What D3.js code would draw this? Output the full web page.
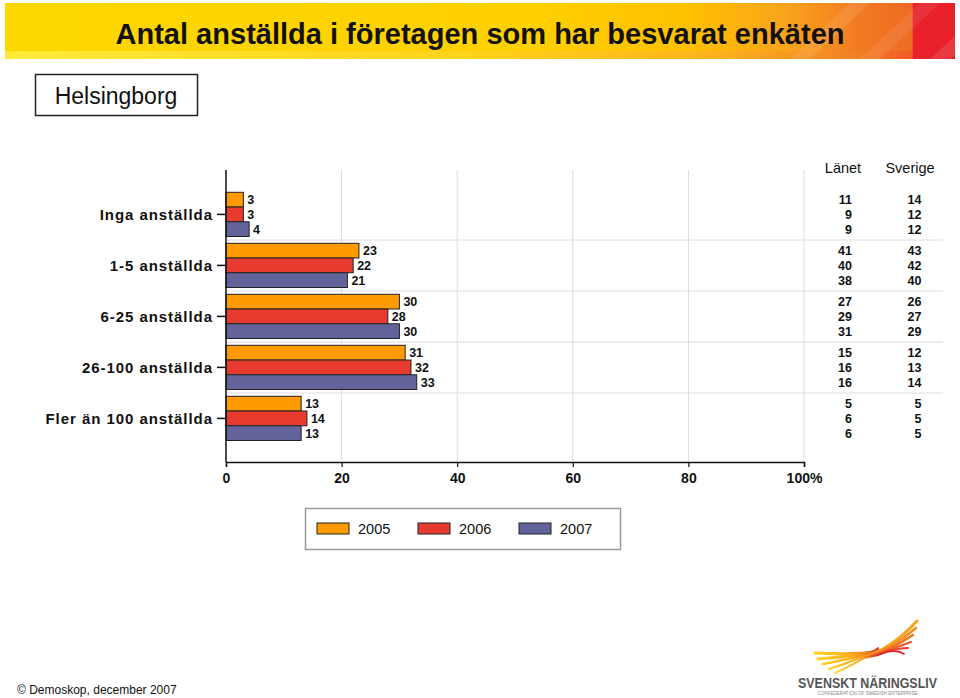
<!DOCTYPE html>
<html>
<head>
<meta charset="utf-8">
<script src="https://cdn.jsdelivr.net/npm/d3@7"></script>
<style>
  html, body { margin: 0; padding: 0; background: #fff; }
  svg { display: block; }
  text { font-family: "Liberation Sans", Arial, Helvetica, sans-serif; }
</style>
</head>
<body>
<svg id="chart" width="960" height="698"></svg>
<script>
// ---------- DATA ----------
const categories = ["Inga anställda", "1-5 anställda", "6-25 anställda", "26-100 anställda", "Fler än 100 anställda"];
const years = ["2005", "2006", "2007"];
// Helsingborg (bars), percent
const helsingborg2005 = [3, 23, 30, 31, 13];
const helsingborg2006 = [3, 22, 28, 32, 14];
const helsingborg2007 = [4, 21, 30, 33, 13];
// Länet (table column)
const lanet2005 = [11, 41, 27, 15, 5];
const lanet2006 = [9, 40, 29, 16, 6];
const lanet2007 = [9, 38, 31, 16, 6];
// Sverige (table column)
const sverige2005 = [14, 43, 26, 12, 5];
const sverige2006 = [12, 42, 27, 13, 5];
const sverige2007 = [12, 40, 29, 14, 5];
const xTicks = [0, 20, 40, 60, 80, 100];
const titleText = "Antal anställda i företagen som har besvarat enkäten";
const regionText = "Helsingborg";
const tableHeaders = ["Länet", "Sverige"];
const footerText = "© Demoskop, december 2007";

const barSeries = { "2005": helsingborg2005, "2006": helsingborg2006, "2007": helsingborg2007 };
const lanetSeries = { "2005": lanet2005, "2006": lanet2006, "2007": lanet2007 };
const sverigeSeries = { "2005": sverige2005, "2006": sverige2006, "2007": sverige2007 };
const colors = { "2005": "#FF9A00", "2006": "#E83B2F", "2007": "#63639B" };

// ---------- SETUP ----------
const svg = d3.select("#chart");
const defs = svg.append("defs");

// Title band
const g1 = defs.append("linearGradient").attr("id", "band").attr("x1", "0").attr("x2", "1").attr("y1", "0").attr("y2", "0");
[[0, "#FFD800"], [0.55, "#FFD000"], [0.72, "#FFC000"], [0.82, "#F9A51C"], [0.9, "#F27A22"], [0.955, "#EE6A24"], [0.956, "#E8212B"], [1, "#E8212B"]]
  .forEach(([o, c]) => g1.append("stop").attr("offset", o).attr("stop-color", c));
const g2 = defs.append("linearGradient").attr("id", "bandLow").attr("x1", "0").attr("x2", "1").attr("y1", "0").attr("y2", "0");
[[0, "#FFEA3A"], [0.5, "#FFD21A"], [0.75, "#FBB21E"], [0.9, "#F47F24"], [0.955, "#EF5A26"], [0.956, "#E8212B"], [1, "#E8212B"]]
  .forEach(([o, c]) => g2.append("stop").attr("offset", o).attr("stop-color", c));

svg.append("rect").attr("x", 5).attr("y", 3).attr("width", 950).attr("height", 49).attr("fill", "url(#band)");
svg.append("rect").attr("x", 5).attr("y", 51).attr("width", 950).attr("height", 8).attr("fill", "url(#bandLow)");
// subtle diagonal streaks in orange region
[[1050, 0.10], [1120, 0.08], [1190, 0.10], [1260, 0.08]].forEach(([x0, op]) => {
  svg.append("path")
    .attr("d", `M${x0 - 260},59 L${x0 - 200},3 L${x0 - 180},3 L${x0 - 240},59 Z`)
    .attr("fill", "#fff").attr("opacity", op);
});
svg.append("text").attr("x", 480).attr("y", 44).attr("text-anchor", "middle")
  .style("font-family", "'Liberation Sans Narrow', 'Arial Narrow', 'Liberation Sans', Arial, sans-serif")
  .style("font-weight", "bold").style("font-size", "30px").attr("fill", "#111")
  .attr("textLength", 729).attr("lengthAdjust", "spacingAndGlyphs")
  .text(titleText);

// Region box
svg.append("rect").attr("x", 35.5).attr("y", 74.5).attr("width", 162).attr("height", 41)
  .attr("fill", "#fff").attr("stroke", "#222").attr("stroke-width", 1.5);
svg.append("text").attr("x", 116).attr("y", 104).attr("text-anchor", "middle")
  .style("font-size", "23px").attr("fill", "#111").text(regionText);

// ---------- CHART ----------
const plotTop = 170, plotBottom = 462;
const x = d3.scaleLinear().domain([0, 100]).range([226, 804]);
const y = d3.scaleBand().domain(categories).range([189, 444]).paddingInner(0).paddingOuter(0);
const groupOffset = 3.3, groupH = 44.2;
const yInner = d3.scaleBand().domain(years).range([0, groupH]);

// vertical gridlines
svg.append("g").selectAll("line").data(xTicks.filter(d => d > 0)).join("line")
  .attr("x1", d => x(d)).attr("x2", d => x(d)).attr("y1", plotTop).attr("y2", plotBottom)
  .attr("stroke", "#dcdcdc").attr("stroke-width", 1);
// horizontal separators between groups
svg.append("g").selectAll("line").data(categories.slice(1)).join("line")
  .attr("x1", x(0)).attr("x2", 943).attr("y1", d => y(d)).attr("y2", d => y(d))
  .attr("stroke", "#dcdcdc").attr("stroke-width", 1);

// bars
const groups = svg.append("g").selectAll("g").data(categories).join("g")
  .attr("transform", d => `translate(0,${y(d) + groupOffset})`);
groups.each(function (cat, ci) {
  const g = d3.select(this);
  const rows = years.map(yr => ({ yr, v: barSeries[yr][ci] }));
  g.selectAll("rect").data(rows).join("rect")
    .attr("x", x(0)).attr("y", d => yInner(d.yr))
    .attr("width", d => x(d.v) - x(0)).attr("height", yInner.bandwidth())
    .attr("fill", d => colors[d.yr]).attr("stroke", "#222").attr("stroke-width", 1);
  g.selectAll("text.val").data(rows).join("text").attr("class", "val")
    .attr("x", d => x(d.v) + 4).attr("y", d => yInner(d.yr) + yInner.bandwidth() / 2 + 4.5)
    .style("font-size", "12.5px").style("font-weight", "bold").attr("fill", "#111")
    .text(d => d.v);
  // table values
  g.selectAll("text.lan").data(years).join("text").attr("class", "lan")
    .attr("x", 852).attr("y", yr => yInner(yr) + yInner.bandwidth() / 2 + 4.5)
    .attr("text-anchor", "end").style("font-size", "12.5px").style("font-weight", "bold").attr("fill", "#111")
    .text(yr => lanetSeries[yr][ci]);
  g.selectAll("text.sve").data(years).join("text").attr("class", "sve")
    .attr("x", 921.5).attr("y", yr => yInner(yr) + yInner.bandwidth() / 2 + 4.5)
    .attr("text-anchor", "end").style("font-size", "12.5px").style("font-weight", "bold").attr("fill", "#111")
    .text(yr => sverigeSeries[yr][ci]);
});

// table headers
svg.append("g").selectAll("text").data(tableHeaders).join("text")
  .attr("x", (d, i) => [843, 910][i]).attr("y", 173).attr("text-anchor", "middle")
  .style("font-size", "14.5px").attr("fill", "#111").text(d => d);

// left axis line + category ticks and labels
svg.append("line").attr("x1", x(0)).attr("x2", x(0)).attr("y1", plotTop).attr("y2", plotBottom)
  .attr("stroke", "#111").attr("stroke-width", 1.5);
const yCenter = d => y(d) + groupOffset + groupH / 2;
svg.append("g").selectAll("line").data(categories).join("line")
  .attr("x1", 217).attr("x2", x(0)).attr("y1", yCenter).attr("y2", yCenter)
  .attr("stroke", "#111").attr("stroke-width", 1.5);
svg.append("g").selectAll("text").data(categories).join("text")
  .attr("x", 213).attr("y", d => yCenter(d) + 5.5).attr("text-anchor", "end")
  .style("font-size", "15px").style("font-weight", "bold").style("letter-spacing", "0.95px")
  .attr("fill", "#111").text(d => d);

// bottom axis
const xAxis = d3.axisBottom(x).tickValues(xTicks).tickSize(5).tickPadding(6)
  .tickFormat(d => d === 100 ? "100%" : d);
const ax = svg.append("g").attr("transform", `translate(0,${plotBottom})`).call(xAxis);
ax.select(".domain").attr("stroke", "#111").attr("stroke-width", 1.5);
ax.selectAll(".tick line").attr("stroke", "#111").attr("stroke-width", 1.2);
ax.selectAll(".tick text").style("font-size", "14px").style("font-weight", "bold")
  .style("font-family", "'Liberation Sans', Arial, sans-serif").attr("fill", "#111");

// legend
svg.append("rect").attr("x", 305.5).attr("y", 508.5).attr("width", 315).attr("height", 41)
  .attr("fill", "#fff").attr("stroke", "#9a9a9a").attr("stroke-width", 1.5);
const legX = [317, 418, 519];
const leg = svg.append("g").selectAll("g").data(years).join("g")
  .attr("transform", (d, i) => `translate(${legX[i]},523)`);
leg.append("rect").attr("width", 32).attr("height", 11)
  .attr("fill", d => colors[d]).attr("stroke", "#222").attr("stroke-width", 1);
leg.append("text").attr("x", 41).attr("y", 11).style("font-size", "14.5px").attr("fill", "#111").text(d => d);

// footer
svg.append("text").attr("x", 17).attr("y", 694).style("font-size", "12px").attr("fill", "#111").text(footerText);

// logo (decorative)
const lg = defs.append("linearGradient").attr("id", "wing").attr("x1", "0").attr("x2", "1").attr("y1", "0").attr("y2", "0");
[[0, "#FFD21C"], [0.5, "#FBB21E"], [0.75, "#F28A22"], [1, "#E8392B"]].forEach(([o, c]) => lg.append("stop").attr("offset", o).attr("stop-color", c));
const logo = svg.append("g");
const feathersLow = [[815, 653, 3.2], [818, 659, 3], [823, 664, 2.6], [829, 669, 2.2], [835, 673, 1.8]];
feathersLow.forEach(([sx, sy, w], i) => {
  logo.append("path").attr("d", `M${sx},${sy} Q${850 + i * 3},${655 + i * 1.5} ${878},${652 - i}`)
    .attr("fill", "none").attr("stroke", "url(#wing)").attr("stroke-width", w).attr("stroke-linecap", "round");
});
const feathersUp = [[917, 621, "#F7A51E", 3], [916, 628, "#F59020", 2.6], [913, 635, "#F07424", 2.4], [911, 642, "#EC5A27", 2.2], [908, 648, "#E8402A", 2], [904, 654, "#D82A2C", 1.8]];
feathersUp.forEach(([ex, ey, c, w], i) => {
  logo.append("path").attr("d", `M${862 + i * 3},${658 - i * 0.5} Q${890 + i},${650 - i * 0.5} ${ex},${ey}`)
    .attr("fill", "none").attr("stroke", c).attr("stroke-width", w).attr("stroke-linecap", "round");
});
logo.append("text").attr("x", 867.5).attr("y", 688).attr("text-anchor", "middle")
  .style("font-size", "14px").style("font-weight", "bold").attr("fill", "#555")
  .attr("textLength", 139).attr("lengthAdjust", "spacingAndGlyphs").text("SVENSKT NÄRINGSLIV");
logo.append("text").attr("x", 867.5).attr("y", 694.5).attr("text-anchor", "middle")
  .style("font-size", "4.5px").attr("fill", "#888")
  .attr("textLength", 100).attr("lengthAdjust", "spacingAndGlyphs").text("CONFEDERATION OF SWEDISH ENTERPRISE");
</script>
</body>
</html>
